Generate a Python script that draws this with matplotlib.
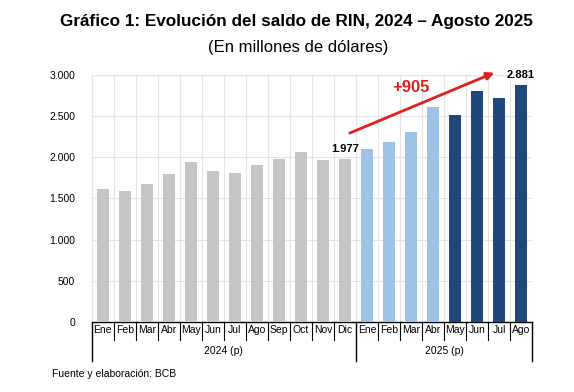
import numpy as np
import matplotlib.pyplot as plt
import matplotlib.transforms as mtransforms

plt.rcParams["font.family"] = ["Liberation Sans", "DejaVu Sans"]

# Data (millions of USD)
months = ["Ene", "Feb", "Mar", "Abr", "May", "Jun", "Jul", "Ago", "Sep", "Oct", "Nov", "Dic",
          "Ene", "Feb", "Mar", "Abr", "May", "Jun", "Jul", "Ago"]
rin_2024 = [1612, 1585, 1679, 1793, 1944, 1838, 1813, 1902, 1972, 2066, 1960, 1977]
rin_2025_a = [2102, 2188, 2305, 2614]
rin_2025_b = [2517, 2805, 2724, 2881]
years = ["2024 (p)", "2025 (p)"]

values = rin_2024 + rin_2025_a + rin_2025_b
colors = (["#c6c6c6"] * len(rin_2024) + ["#9dc3e6"] * len(rin_2025_a)
          + ["#1f477a"] * len(rin_2025_b))
x = np.arange(len(values))

fig = plt.figure(figsize=(5.74, 3.92), dpi=100)
ax = fig.add_axes([0.160, 0.179, 0.767, 0.630])

ax.bar(x, values, width=0.56, color=colors, zorder=3)

ax.set_xlim(-0.5, len(values) - 0.5)
ax.set_ylim(0, 3000)
ax.set_yticks(np.arange(0, 3001, 500))
ax.set_yticklabels([f"{v:,}".replace(",", ".") for v in range(0, 3001, 500)], fontsize=7.5)
ax.tick_params(axis="y", length=0, pad=12)
ax.set_xticks([])

# grid
for yy in range(500, 3001, 500):
    ax.axhline(yy, color="#e4e4e4", lw=0.8, zorder=1)
for b in np.arange(0.5, len(values) - 1, 1):
    ax.axvline(b, color="#e4e4e4", lw=0.8, zorder=1)

for s in ["top", "right"]:
    ax.spines[s].set_visible(False)
ax.spines["left"].set_color("#e4e4e4")
ax.spines["bottom"].set_color("black")
ax.spines["bottom"].set_linewidth(1.0)

# category axis: month labels and separators
trans = mtransforms.blended_transform_factory(ax.transData, ax.transAxes)
for i, m in enumerate(months):
    ax.text(i, -0.035, m, transform=trans, ha="center", va="center", fontsize=7.5)
boundaries = np.arange(-0.5, len(values), 1)
for b in boundaries:
    if b in (-0.5, 11.5, len(values) - 0.5):
        ax.plot([b, b], [0, -0.16], transform=trans, color="black", lw=1.0, clip_on=False)
    else:
        ax.plot([b, b], [0, -0.075], transform=trans, color="black", lw=0.8, clip_on=False)
ax.text(5.5, -0.12, years[0], transform=trans, ha="center", va="center", fontsize=7.5)
ax.text(15.5, -0.12, years[1], transform=trans, ha="center", va="center", fontsize=7.5)

# annotations
ax.text(11, rin_2024[-1] + 60, "1.977", ha="center", va="bottom", fontsize=8, fontweight="bold")
ax.text(19, rin_2025_b[-1] + 60, "2.881", ha="center", va="bottom", fontsize=8, fontweight="bold")
ax.annotate("", xy=(17.9, 3040), xytext=(11.1, 2280),
            arrowprops=dict(arrowstyle="-|>", color="#e0201c", lw=2.0, mutation_scale=11),
            annotation_clip=False, zorder=5)
ax.text(14.0, 2850, "+905", ha="center", va="center", fontsize=12, fontweight="bold",
        color="#e0201c")

fig.text(0.517, 0.945, "Gráfico 1: Evolución del saldo de RIN, 2024 – Agosto 2025",
         ha="center", va="center", fontsize=12.3, fontweight="bold")
fig.text(0.52, 0.88, "(En millones de dólares)", ha="center", va="center", fontsize=12)
fig.text(0.09, 0.045, "Fuente y elaboración: BCB", ha="left", va="center", fontsize=7.5)

fig.savefig("out.png", dpi=100, facecolor="white")
